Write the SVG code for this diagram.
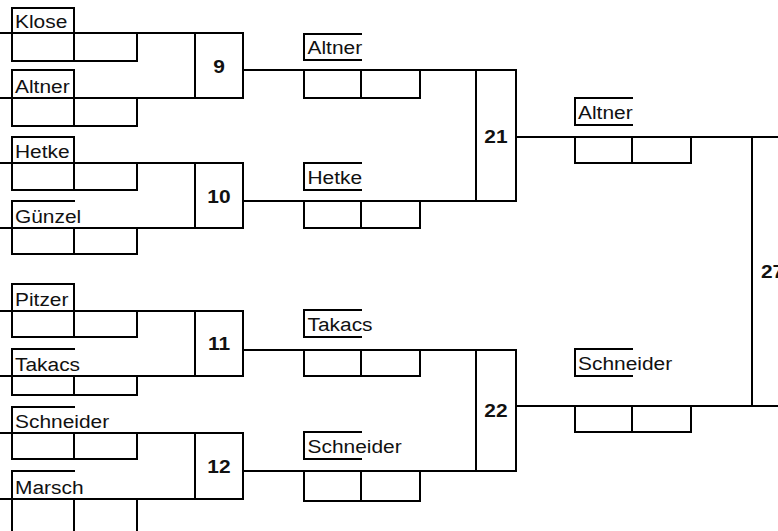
<svg xmlns="http://www.w3.org/2000/svg" width="778" height="531" viewBox="0 0 778 531">
<style>
  .ln{fill:none;stroke:#000;stroke-width:2;stroke-linecap:square}
  .bx{fill:none;stroke:#000;stroke-width:2}
  .nm{font-family:"Liberation Sans",Arial,sans-serif;font-size:19px;fill:#111}
  .no{font-family:"Liberation Sans",Arial,sans-serif;font-size:19px;font-weight:bold;fill:#111;text-anchor:middle}
</style>
<rect width="778" height="531" fill="#fff"/>

<!-- Round 1 entries -->
<g id="r1-klose">
  <path class="ln" d="M12,33 V8 H74 V33 M12,33 V61 H137 V33 M74,33 V61"/>
  <text class="nm" transform="translate(15,28) scale(1.1,1)">Klose</text>
</g>
<g id="r1-altner">
  <path class="ln" d="M12,98 V70 H74 V98 M12,98 V126 H137 V98 M74,98 V126"/>
  <text class="nm" transform="translate(15,92.5) scale(1.1,1)">Altner</text>
</g>
<g id="r1-hetke">
  <path class="ln" d="M12,163 V137 H74 V163 M12,163 V190 H137 V163 M74,163 V190"/>
  <text class="nm" transform="translate(15,157.5) scale(1.1,1)">Hetke</text>
</g>
<g id="r1-guenzel">
  <path class="ln" d="M74,201 H12 V228 M12,228 V254 H137 V228 M74,228 V254"/>
  <text class="nm" transform="translate(15,222.5) scale(1.1,1)">Günzel</text>
</g>
<g id="r1-pitzer">
  <path class="ln" d="M12,311 V284 H74 V311 M12,311 V337 H137 V311 M74,311 V337"/>
  <text class="nm" transform="translate(15,305.5) scale(1.1,1)">Pitzer</text>
</g>
<g id="r1-takacs">
  <path class="ln" d="M74,349 H12 V376 M12,376 V395 H137 V376 M74,376 V395"/>
  <text class="nm" transform="translate(15,370.5) scale(1.1,1)">Takacs</text>
</g>
<g id="r1-schneider">
  <path class="ln" d="M74,407 H12 V433 M12,433 V459 H137 V433 M74,433 V459"/>
  <text class="nm" transform="translate(15,427.5) scale(1.1,1)">Schneider</text>
</g>
<g id="r1-marsch">
  <path class="ln" d="M74,471 H12 V499 M12,499 V531 M74,499 V531 M137,499 V531"/>
  <text class="nm" transform="translate(15,493.5) scale(1.1,1)">Marsch</text>
</g>

<!-- Match boxes round 1 -->
<g id="m9"><rect class="bx" x="195" y="33" width="48" height="65"/><text class="no" transform="translate(219,72.5) scale(1.1,1)">9</text></g>
<g id="m10"><rect class="bx" x="195" y="163" width="48" height="65"/><text class="no" transform="translate(219,203) scale(1.1,1)">10</text></g>
<g id="m11"><rect class="bx" x="195" y="311" width="48" height="65"/><text class="no" transform="translate(219,350) scale(1.1,1)">11</text></g>
<g id="m12"><rect class="bx" x="195" y="433" width="48" height="66"/><text class="no" transform="translate(219,473) scale(1.1,1)">12</text></g>

<!-- Round 2 entries -->
<g id="r2-altner">
  <path class="ln" d="M361,34 H304 V60 H361 M304,70 V98 H420 V70 M361,70 V98"/>
  <text class="nm" transform="translate(307.5,53.5) scale(1.1,1)">Altner</text>
</g>
<g id="r2-hetke">
  <path class="ln" d="M361,163 H304 V190 H361 M304,201 V228 H420 V201 M361,201 V228"/>
  <text class="nm" transform="translate(307.5,183.5) scale(1.1,1)">Hetke</text>
</g>
<g id="r2-takacs">
  <path class="ln" d="M361,310 H304 V337 H361 M304,350 V376 H420 V350 M361,350 V376"/>
  <text class="nm" transform="translate(307.5,330.5) scale(1.1,1)">Takacs</text>
</g>
<g id="r2-schneider">
  <path class="ln" d="M361,432 H304 V459 H361 M304,471 V501 H420 V471 M361,471 V501"/>
  <text class="nm" transform="translate(307.5,452.5) scale(1.1,1)">Schneider</text>
</g>

<!-- Match boxes round 2 -->
<g id="m21"><rect class="bx" x="476" y="70" width="40" height="131"/><text class="no" transform="translate(496,143) scale(1.1,1)">21</text></g>
<g id="m22"><rect class="bx" x="476" y="350" width="40" height="121"/><text class="no" transform="translate(496,416.5) scale(1.1,1)">22</text></g>

<!-- Round 3 entries -->
<g id="r3-altner">
  <path class="ln" d="M632,98 H575 V125 H632 M575,137 V163 H691 V137 M632,137 V163"/>
  <text class="nm" transform="translate(578,118.5) scale(1.1,1)">Altner</text>
</g>
<g id="r3-schneider">
  <path class="ln" d="M632,349 H575 V376 H632 M575,406 V432 H691 V406 M632,406 V432"/>
  <text class="nm" transform="translate(578,369.5) scale(1.1,1)">Schneider</text>
</g>

<!-- Final match box -->
<g id="m27">
  <path class="ln" d="M780,137 H752 V406 H780"/>
  <text class="nm" style="font-weight:bold" transform="translate(761,278) scale(1.1,1)">27</text>
</g>

<!-- Connectors -->
<g id="connectors">
  <path class="ln" d="M0,33 H195 M0,98 H195"/>
  <path class="ln" d="M0,163 H195 M0,228 H195"/>
  <path class="ln" d="M0,311 H195 M0,376 H195"/>
  <path class="ln" d="M0,433 H195 M0,499 H195"/>
  <path class="ln" d="M243,70 H476 M243,201 H476"/>
  <path class="ln" d="M243,350 H476 M243,471 H476"/>
  <path class="ln" d="M516,137 H752 M516,406 H752"/>
</g>
</svg>
